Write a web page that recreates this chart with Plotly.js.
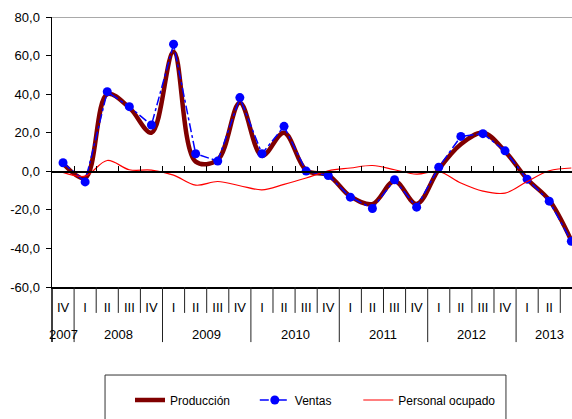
<!DOCTYPE html>
<html>
<head>
<meta charset="utf-8">
<script src="https://cdn.plot.ly/plotly-3.0.1.min.js"></script>
<style>html,body{margin:0;padding:0;overflow:hidden;background:#fff}</style>
</head>
<body>
<div id="chart" style="width:572px;height:419px"></div>
<script>
// Data
const quarters = ["IV","I","II","III","IV","I","II","III","IV","I","II","III","IV","I","II","III","IV","I","II","III","IV","I","II","III"];
const years = ["2007","2008","2008","2008","2008","2009","2009","2009","2009","2010","2010","2010","2010","2011","2011","2011","2011","2012","2012","2012","2012","2013","2013","2013"];
const produccion = [4, -3.5, 40, 33, 20, 62, 5, 6, 35.5, 8, 20, 0.5, -2, -13, -17, -5, -17, 1, 14, 20, 10.3, -4, -15, -36];
const ventas = [4.4, -5.5, 41.3, 33.5, 24.0, 65.9, 9.1, 5.3, 38.2, 9.1, 23.3, 0.1, -2.2, -13.4, -19.3, -4.4, -18.6, 2.1, 18.1, 19.5, 10.6, -4.1, -15.5, -36.3];
const personal = [-0.6, -2.5, 5.6, 0.8, 0.6, -2, -7.2, -5.3, -7.5, -9.6, -6.8, -3.5, 0.2, 1.7, 3.0, 0.8, -1.5, -0.1, -6.1, -10.3, -11.3, -5.3, 0.3, 1.7];
const yTickVals = [80, 60, 40, 20, 0, -20, -40, -60];
const yTickText = ["80,0","60,0","40,0","20,0","0,0","-20,0","-40,0","-60,0"];

const idx = quarters.map((q, i) => i);
const FONT = "Liberation Sans, Arial, sans-serif";

const traces = [
  {x: idx, y: produccion, name: "Producción", type: "scatter", mode: "lines", showlegend: true,
   line: {color: "#800000", width: 4.5, shape: "spline", smoothing: 1}, legend: "legend"},
  {x: idx, y: ventas, name: "Ventas", type: "scatter", mode: "lines+markers", showlegend: true,
   line: {color: "#0000FF", width: 1.5, dash: "dashdot"},
   marker: {color: "#0000FF", size: 9}, legend: "legend2"},
  {x: idx, y: personal, name: "Personal ocupado", type: "scatter", mode: "lines", showlegend: true,
   xaxis: "x2",
   line: {color: "#FF0000", width: 1.2, shape: "spline", smoothing: 1}, legend: "legend3"}
];

// Layout helpers derived from the category list
const shapes = [];
const quarterBottom = -0.096, yearBottom = -0.204;
for (let i = 0; i < quarters.length - 1; i++) {
  const yearBreak = years[i] !== years[i + 1];
  shapes.push({type: "line", xref: "x", yref: "paper", x0: i + 0.5, x1: i + 0.5,
    y0: 0, y1: yearBreak ? yearBottom : quarterBottom, line: {color: "#222", width: 1}});
}
shapes.push({type: "line", xref: "paper", yref: "paper", x0: 0, x1: 0, y0: 0, y1: yearBottom,
  line: {color: "#000", width: 1.5}});
// top border line
shapes.push({type: "line", xref: "paper", yref: "y", x0: 0, x1: 1, y0: 80, y1: 80,
  line: {color: "#8c8c8c", width: 1.5}});
// legend frame
shapes.push({type: "rect", xref: "paper", yref: "paper", x0: 0.102, x1: 0.873, y0: -0.326, y1: -0.62,
  line: {color: "#333", width: 1}, fillcolor: "rgba(0,0,0,0)"});

// year annotations
const annotations = [];
const uniqYears = [...new Set(years)];
uniqYears.forEach(yr => {
  const ids = idx.filter(i => years[i] === yr);
  const c = ids.reduce((a, b) => a + b, 0) / ids.length;
  annotations.push({text: yr, x: c, xref: "x", y: -0.175, yref: "paper", showarrow: false,
    font: {family: FONT, size: 13, color: "#000"}, yanchor: "middle", xanchor: "center"});
});

const boundaries = idx.map(i => i + 0.5);
const legFont = {family: FONT, size: 12, color: "#000"};
const layout = {
  width: 572, height: 419,
  margin: {l: 52, r: 0, t: 17, b: 132},
  paper_bgcolor: "#fff", plot_bgcolor: "#fff",
  showlegend: true,
  font: {family: FONT, size: 13, color: "#000"},
  xaxis: {range: [-0.5, 23.03], tickvals: idx, ticktext: quarters, ticks: "",
    showgrid: false, zeroline: false, showline: true, linecolor: "#000", linewidth: 1.5,
    tickfont: {family: FONT, size: 13, color: "#000"}, ticklabelstandoff: 8, fixedrange: true},
  xaxis2: {overlaying: "x", matches: "x", anchor: "free", position: 60 / 140, side: "bottom",
    showline: true, linecolor: "#000", linewidth: 1.5, ticks: "inside", ticklen: 5, tickwidth: 1,
    tickcolor: "#000", tickvals: boundaries, showticklabels: false, showgrid: false, zeroline: false},
  yaxis: {range: [-60, 80], tickvals: yTickVals, ticktext: yTickText, ticks: "outside",
    ticklen: 5, tickcolor: "#000", showline: true, linecolor: "#000", linewidth: 1.5,
    showgrid: false, zeroline: false, tickfont: {family: FONT, size: 13, color: "#000"},
    ticklabelstandoff: 3},
  shapes: shapes,
  annotations: annotations,
  legend: {x: 0.15, xanchor: "left", y: -0.4185, yanchor: "middle", orientation: "h",
    font: legFont, bgcolor: "rgba(0,0,0,0)"},
  legend2: {x: 0.39, xanchor: "left", y: -0.4185, yanchor: "middle", orientation: "h",
    font: legFont, bgcolor: "rgba(0,0,0,0)"},
  legend3: {x: 0.589, xanchor: "left", y: -0.4185, yanchor: "middle", orientation: "h",
    font: legFont, bgcolor: "rgba(0,0,0,0)"}
};

Plotly.newPlot("chart", traces, layout, {displayModeBar: false, staticPlot: true});
</script>
</body>
</html>
